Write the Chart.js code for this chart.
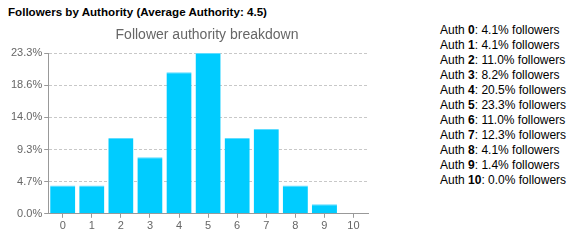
<!DOCTYPE html>
<html lang="en">
  <head>
    <meta charset="UTF-8" />
    <title>Followers by Authority</title>
    <style>
      body {
        margin: 0;
        width: 579px;
        height: 242px;
        font-family: "Liberation Sans", Arial, sans-serif;
        background: #fff;
        position: relative;
        overflow: hidden;
      }
      h1 {
        position: absolute;
        left: 8px;
        top: 5px;
        margin: 0;
        font-size: 11.6px;
        font-weight: bold;
        color: #000;
      }
      #subtitle {
        position: absolute;
        left: 0;
        width: 414px;
        top: 26px;
        text-align: center;
        font-size: 14px;
        color: #666;
      }
      #wrap {
        position: absolute;
        left: 0;
        top: 25px;
        width: 414px;
        height: 210px;
      }
      #legend {
        position: absolute;
        left: 440px;
        top: 23px;
        font-size: 12px;
        line-height: 15px;
        color: #000;
      }
    </style>
  </head>
  <body>
    <h1>Followers by Authority (Average Authority: 4.5)</h1>
    <div id="wrap"><canvas id="chart"></canvas></div>
    <div id="subtitle">Follower authority breakdown</div>
    <div id="legend"></div>

    <script src="https://cdn.jsdelivr.net/npm/chart.js"></script>
    <script>
      const authorities = ["0", "1", "2", "3", "4", "5", "6", "7", "8", "9", "10"];
      const followerPct = [4.1, 4.1, 11.0, 8.2, 20.5, 23.3, 11.0, 12.3, 4.1, 1.4, 0.0];
      const yTicks = [0, 4.66, 9.32, 13.98, 18.64, 23.3];

      const legend = document.getElementById("legend");
      authorities.forEach((a, i) => {
        const row = document.createElement("div");
        row.innerHTML = `Auth <b>${a}</b>: ${followerPct[i].toFixed(1)}% followers`;
        legend.appendChild(row);
      });

      new Chart(document.getElementById("chart"), {
        type: "bar",
        data: {
          labels: authorities,
          datasets: [
            {
              data: followerPct,
              backgroundColor: "#00ccff",
              borderColor: "#5fdcff",
              borderWidth: { top: 1, left: 0, right: 0, bottom: 0 },
              borderSkipped: "bottom",
              barPercentage: 0.865,
              categoryPercentage: 1,
            },
          ],
        },
        options: {
          responsive: true,
          maintainAspectRatio: false,
          animation: false,
          layout: { padding: { left: 9, right: 46, bottom: 0, top: 28 } },
          plugins: {
            legend: { display: false },
            tooltip: { enabled: false },
          },
          scales: {
            x: {
              grid: {
                display: true,
                drawOnChartArea: false,
                drawTicks: true,
                tickLength: 4,
                offset: false,
                color: "#999",
              },
              border: { color: "#999" },
              ticks: {
                color: "#666",
                font: { family: "Liberation Sans", size: 11 },
                padding: 2,
                maxRotation: 0,
              },
            },
            y: {
              min: 0,
              max: 23.3,
              afterBuildTicks: (axis) => {
                axis.ticks = yTicks.map((v) => ({ value: v }));
              },
              grid: {
                color: "#c8c8c8",
                tickLength: 4,
                tickColor: "#999",
              },
              border: { color: "#999", dash: [3, 2] },
              ticks: {
                color: "#666",
                font: { family: "Liberation Sans", size: 11 },
                padding: 2,
                callback: (v) => Number(v).toFixed(1) + "%",
              },
            },
          },
        },
      });
    </script>
  </body>
</html>
